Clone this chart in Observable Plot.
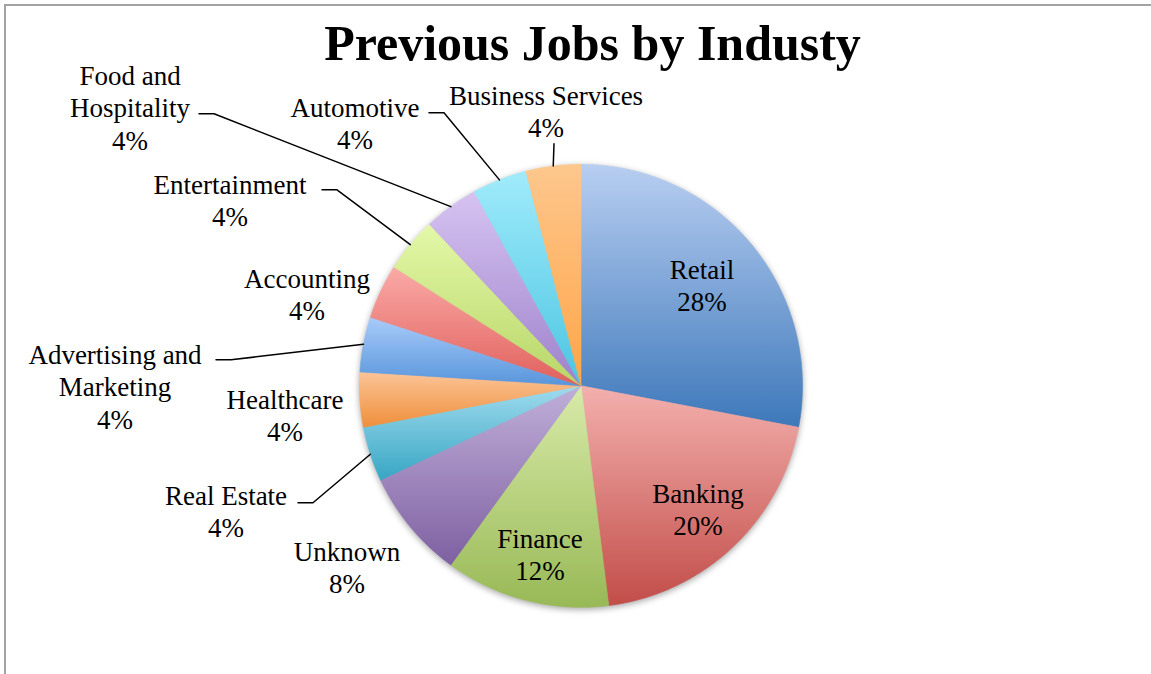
<!DOCTYPE html>
<html>
<head>
<meta charset="utf-8">
<script src="https://cdn.jsdelivr.net/npm/d3@7"></script>
<script src="https://cdn.jsdelivr.net/npm/@observablehq/plot@0.6"></script>
<style>
  html, body { margin: 0; padding: 0; background: #fff; }
  #wrap { position: relative; width: 1151px; height: 674px; overflow: hidden; background: #fff; }
  #frame { position: absolute; left: 4px; top: 4px; width: 1160px; height: 690px;
           border-top: 2px solid #a2a2a2; border-left: 2px solid #a2a2a2; box-sizing: border-box; }
  #chart { position: absolute; left: 0; top: 0; }
  #title { position: absolute; left: 0; top: 18px; width: 1185px; text-align: center;
           font-family: "Liberation Serif", serif; font-weight: bold; font-size: 50px; line-height: 50px; color: #000; }
</style>
</head>
<body>
<div id="wrap">
  <div id="frame"></div>
  <div id="chart"></div>
  <div id="title">Previous Jobs by Industy</div>
</div>
<script>
// ---- data ----
const categories = ["Retail", "Banking", "Finance", "Unknown", "Real Estate", "Healthcare",
  "Advertising and Marketing", "Accounting", "Entertainment", "Food and Hospitality",
  "Automotive", "Business Services"];
const counts = [7, 5, 3, 2, 1, 1, 1, 1, 1, 1, 1, 1];
const labelLines = ["Retail", "Banking", "Finance", "Unknown", "Real Estate", "Healthcare",
  "Advertising and\nMarketing", "Accounting", "Entertainment", "Food and\nHospitality",
  "Automotive", "Business Services"];

// ---- palette (gradient top -> bottom) ----
const topColors = ["#b8cef1", "#f3b0ad", "#d8eaa9", "#c0afd9", "#a0dbee", "#fbc498",
  "#a8cbf9", "#faaaa7", "#e4f8a8", "#d6c3f1", "#a0ebfb", "#fdc78d"];
const bottomColors = ["#3d78ba", "#c24d49", "#98b956", "#7e60a1", "#37a6c3", "#ef8f3a",
  "#5895db", "#e0605c", "#b7d667", "#9e82cb", "#4cc5e2", "#ffa548"];

// ---- layout (pixels) ----
const W = 1151, H = 674, CX = 580.5, CY = 385.3, R = 221.5;
// label block centres, offsets from the pie centre in px
const labelOffsets = [[121, -101], [117, 123], [-41, 168], [-234, 181], [-355, 125], [-296, 29],
  [-466, 0], [-274, -92], [-351, -186], [-451, -279], [-226, -263], [-35, -275]];
// leader lines: [start, knee] offsets from the pie centre in px (null = no leader)
const leaderOffsets = [null, null, null, null, [[-283, 117], [-268, 117]], null,
  [[-365, -26], [-350, -26]], null, [[-259, -196], [-244, -196]], [[-382, -272], [-367, -272]],
  [[-152, -273], [-137, -273]], [[-27, -242], [-27, -242]]];

const data = categories.map((c, i) => ({category: c, value: counts[i], i}));
const total = d3.sum(counts);
const arcs = d3.pie().sort(null).value(d => d.value)(data);

// slice polygons (unit radius), from the pie layout
const slicePts = arcs.flatMap((p, i) => {
  const pts = [{x: 0, y: 0, i}];
  const n = Math.max(4, Math.ceil((p.endAngle - p.startAngle) / (Math.PI / 360)));
  for (let k = 0; k <= n; ++k) {
    const a = p.startAngle + (p.endAngle - p.startAngle) * k / n;
    pts.push({x: Math.sin(a), y: -Math.cos(a), i});
  }
  pts.push({x: 0, y: 0, i});
  return pts;
});

const labels = arcs.map((p, i) => ({
  i,
  x: labelOffsets[i][0] / R,
  y: labelOffsets[i][1] / R,
  text: labelLines[i] + "\n" + Math.round(p.data.value / total * 100) + "%"
}));

const leaderPts = arcs.flatMap((p, i) => {
  const L = leaderOffsets[i];
  if (!L) return [];
  const mid = (p.startAngle + p.endAngle) / 2;
  return [
    {x: L[0][0] / R, y: L[0][1] / R, i},
    {x: L[1][0] / R, y: L[1][1] / R, i},
    {x: Math.sin(mid), y: -Math.cos(mid), i}
  ];
});

const chart = Plot.plot({
  width: W,
  height: H,
  margin: 0,
  x: {type: "linear", domain: [-CX / R, (W - CX) / R], range: [0, W], axis: null},
  y: {type: "linear", domain: [-CY / R, (H - CY) / R], range: [0, H], axis: null},
  color: {type: "identity"},
  style: {background: "transparent"},
  marks: [
    Plot.line(slicePts, {x: "x", y: "y", z: "i", curve: "linear",
      fill: d => `url(#grad${d.i})`, stroke: d => `url(#grad${d.i})`, strokeWidth: 0.6}),
    Plot.line(leaderPts, {x: "x", y: "y", z: "i", curve: "linear", stroke: "#000", strokeWidth: 1.5}),
    Plot.text(labels, {x: "x", y: "y", text: "text", textAnchor: "middle", lineAnchor: "middle",
      lineHeight: 1.2, fontSize: 27, fontFamily: "Liberation Serif, serif", fill: "#000"})
  ]
});

// gradients
const ns = "http://www.w3.org/2000/svg";
const defs = document.createElementNS(ns, "defs");
topColors.forEach((c, i) => {
  const g = document.createElementNS(ns, "linearGradient");
  g.setAttribute("id", "grad" + i);
  g.setAttribute("x1", "0"); g.setAttribute("y1", "0");
  g.setAttribute("x2", "0"); g.setAttribute("y2", "1");
  [[0, c], [1, bottomColors[i]]].forEach(([o, col]) => {
    const s = document.createElementNS(ns, "stop");
    s.setAttribute("offset", o);
    s.setAttribute("stop-color", col);
    g.appendChild(s);
  });
  defs.appendChild(g);
});
chart.insertBefore(defs, chart.firstChild);
const sliceG = chart.querySelectorAll('g[aria-label="line"]')[0];
if (sliceG) sliceG.style.filter = "drop-shadow(0px 2px 3px rgba(0,0,0,0.35))";

document.getElementById("chart").appendChild(chart);
</script>
</body>
</html>
